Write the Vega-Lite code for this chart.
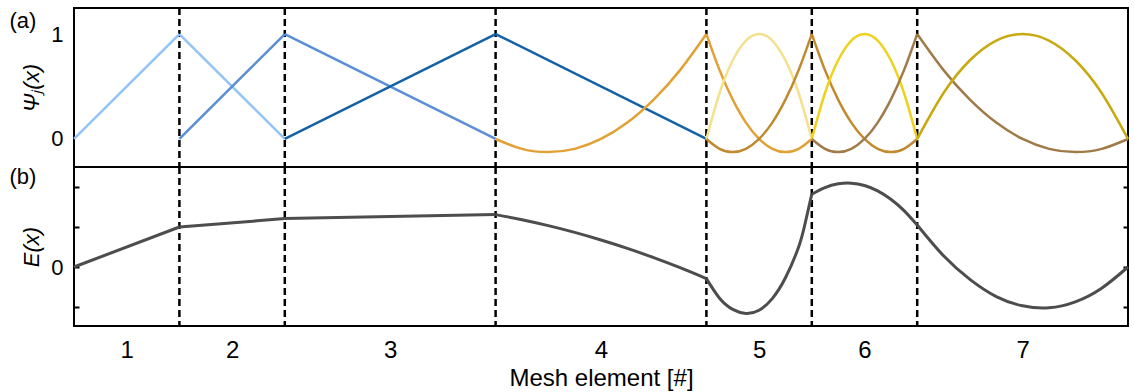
{
  "$schema": "https://vega.github.io/schema/vega-lite/v6.json",
  "padding": {"left": 8, "top": 5, "right": 6, "bottom": 0},
  "spacing": 0,
  "bounds": "flush",
  "config": {
    "font": "Liberation Sans",
    "view": {"stroke": "black", "strokeWidth": 2},
    "axis": {"labelFont": "Liberation Sans", "titleFont": "Liberation Sans", "labelFontSize": 22, "titleFontSize": 22, "labelColor": "black", "titleColor": "black", "grid": false, "domain": false, "titleFontWeight": "normal"}
  },
  "datasets": {
    "bounds": [{"x": 1}, {"x": 2}, {"x": 4}, {"x": 6}, {"x": 7}, {"x": 8}],
    "basis": [
      {"f": "h1", "seg": "h1a", "x": 0, "y": 0}, {"f": "h1", "seg": "h1a", "x": 1, "y": 1},
      {"f": "h1", "seg": "h1b", "x": 1, "y": 1}, {"f": "h1", "seg": "h1b", "x": 2, "y": 0},
      {"f": "h2", "seg": "h2a", "x": 1, "y": 0}, {"f": "h2", "seg": "h2a", "x": 2, "y": 1},
      {"f": "h2", "seg": "h2b", "x": 2, "y": 1}, {"f": "h2", "seg": "h2b", "x": 4, "y": 0},
      {"f": "h4", "seg": "h4a", "x": 2, "y": 0}, {"f": "h4", "seg": "h4a", "x": 4, "y": 1},
      {"f": "h4", "seg": "h4b", "x": 4, "y": 1}, {"f": "h4", "seg": "h4b", "x": 6, "y": 0},
      {"f": "q6", "seg": "q6a", "x": 4, "y": 0}, {"f": "q6", "seg": "q6a", "x": 4.25, "y": -0.094}, {"f": "q6", "seg": "q6a", "x": 4.5, "y": -0.125}, {"f": "q6", "seg": "q6a", "x": 4.75, "y": -0.094}, {"f": "q6", "seg": "q6a", "x": 5, "y": 0}, {"f": "q6", "seg": "q6a", "x": 5.25, "y": 0.156}, {"f": "q6", "seg": "q6a", "x": 5.5, "y": 0.375}, {"f": "q6", "seg": "q6a", "x": 5.75, "y": 0.656}, {"f": "q6", "seg": "q6a", "x": 6, "y": 1},
      {"f": "q6", "seg": "q6b", "x": 6, "y": 1}, {"f": "q6", "seg": "q6b", "x": 6.125, "y": 0.656}, {"f": "q6", "seg": "q6b", "x": 6.25, "y": 0.375}, {"f": "q6", "seg": "q6b", "x": 6.375, "y": 0.156}, {"f": "q6", "seg": "q6b", "x": 6.5, "y": 0}, {"f": "q6", "seg": "q6b", "x": 6.625, "y": -0.094}, {"f": "q6", "seg": "q6b", "x": 6.75, "y": -0.125}, {"f": "q6", "seg": "q6b", "x": 6.875, "y": -0.094}, {"f": "q6", "seg": "q6b", "x": 7, "y": 0},
      {"f": "b5", "seg": "b5", "x": 6, "y": 0}, {"f": "b5", "seg": "b5", "x": 6.125, "y": 0.438}, {"f": "b5", "seg": "b5", "x": 6.25, "y": 0.75}, {"f": "b5", "seg": "b5", "x": 6.375, "y": 0.938}, {"f": "b5", "seg": "b5", "x": 6.5, "y": 1}, {"f": "b5", "seg": "b5", "x": 6.625, "y": 0.938}, {"f": "b5", "seg": "b5", "x": 6.75, "y": 0.75}, {"f": "b5", "seg": "b5", "x": 6.875, "y": 0.438}, {"f": "b5", "seg": "b5", "x": 7, "y": 0},
      {"f": "q7", "seg": "q7a", "x": 6, "y": 0}, {"f": "q7", "seg": "q7a", "x": 6.125, "y": -0.094}, {"f": "q7", "seg": "q7a", "x": 6.25, "y": -0.125}, {"f": "q7", "seg": "q7a", "x": 6.375, "y": -0.094}, {"f": "q7", "seg": "q7a", "x": 6.5, "y": 0}, {"f": "q7", "seg": "q7a", "x": 6.625, "y": 0.156}, {"f": "q7", "seg": "q7a", "x": 6.75, "y": 0.375}, {"f": "q7", "seg": "q7a", "x": 6.875, "y": 0.656}, {"f": "q7", "seg": "q7a", "x": 7, "y": 1},
      {"f": "q7", "seg": "q7b", "x": 7, "y": 1}, {"f": "q7", "seg": "q7b", "x": 7.125, "y": 0.656}, {"f": "q7", "seg": "q7b", "x": 7.25, "y": 0.375}, {"f": "q7", "seg": "q7b", "x": 7.375, "y": 0.156}, {"f": "q7", "seg": "q7b", "x": 7.5, "y": 0}, {"f": "q7", "seg": "q7b", "x": 7.625, "y": -0.094}, {"f": "q7", "seg": "q7b", "x": 7.75, "y": -0.125}, {"f": "q7", "seg": "q7b", "x": 7.875, "y": -0.094}, {"f": "q7", "seg": "q7b", "x": 8, "y": 0},
      {"f": "b6", "seg": "b6", "x": 7, "y": 0}, {"f": "b6", "seg": "b6", "x": 7.125, "y": 0.438}, {"f": "b6", "seg": "b6", "x": 7.25, "y": 0.75}, {"f": "b6", "seg": "b6", "x": 7.375, "y": 0.938}, {"f": "b6", "seg": "b6", "x": 7.5, "y": 1}, {"f": "b6", "seg": "b6", "x": 7.625, "y": 0.938}, {"f": "b6", "seg": "b6", "x": 7.75, "y": 0.75}, {"f": "b6", "seg": "b6", "x": 7.875, "y": 0.438}, {"f": "b6", "seg": "b6", "x": 8, "y": 0},
      {"f": "q8", "seg": "q8a", "x": 7, "y": 0}, {"f": "q8", "seg": "q8a", "x": 7.125, "y": -0.094}, {"f": "q8", "seg": "q8a", "x": 7.25, "y": -0.125}, {"f": "q8", "seg": "q8a", "x": 7.375, "y": -0.094}, {"f": "q8", "seg": "q8a", "x": 7.5, "y": 0}, {"f": "q8", "seg": "q8a", "x": 7.625, "y": 0.156}, {"f": "q8", "seg": "q8a", "x": 7.75, "y": 0.375}, {"f": "q8", "seg": "q8a", "x": 7.875, "y": 0.656}, {"f": "q8", "seg": "q8a", "x": 8, "y": 1},
      {"f": "q8", "seg": "q8b", "x": 8, "y": 1}, {"f": "q8", "seg": "q8b", "x": 8.25, "y": 0.656}, {"f": "q8", "seg": "q8b", "x": 8.5, "y": 0.375}, {"f": "q8", "seg": "q8b", "x": 8.75, "y": 0.156}, {"f": "q8", "seg": "q8b", "x": 9, "y": 0}, {"f": "q8", "seg": "q8b", "x": 9.25, "y": -0.094}, {"f": "q8", "seg": "q8b", "x": 9.5, "y": -0.125}, {"f": "q8", "seg": "q8b", "x": 9.75, "y": -0.094}, {"f": "q8", "seg": "q8b", "x": 10, "y": 0},
      {"f": "b7", "seg": "b7", "x": 8, "y": 0}, {"f": "b7", "seg": "b7", "x": 8.25, "y": 0.438}, {"f": "b7", "seg": "b7", "x": 8.5, "y": 0.75}, {"f": "b7", "seg": "b7", "x": 8.75, "y": 0.938}, {"f": "b7", "seg": "b7", "x": 9, "y": 1}, {"f": "b7", "seg": "b7", "x": 9.25, "y": 0.938}, {"f": "b7", "seg": "b7", "x": 9.5, "y": 0.75}, {"f": "b7", "seg": "b7", "x": 9.75, "y": 0.438}, {"f": "b7", "seg": "b7", "x": 10, "y": 0}
    ],
    "E": [
      {"seg": "e1", "x": 0, "y": 0}, {"seg": "e1", "x": 1, "y": 1.0},
      {"seg": "e2", "x": 1, "y": 1.0}, {"seg": "e2", "x": 2, "y": 1.21},
      {"seg": "e3", "x": 2, "y": 1.21}, {"seg": "e3", "x": 4, "y": 1.31},
      {"seg": "e4", "x": 4, "y": 1.31}, {"seg": "e4", "x": 4.25, "y": 1.182}, {"seg": "e4", "x": 4.5, "y": 1.034}, {"seg": "e4", "x": 4.75, "y": 0.865}, {"seg": "e4", "x": 5, "y": 0.675}, {"seg": "e4", "x": 5.25, "y": 0.465}, {"seg": "e4", "x": 5.5, "y": 0.234}, {"seg": "e4", "x": 5.75, "y": -0.018}, {"seg": "e4", "x": 6, "y": -0.29},
      {"seg": "e5", "x": 6, "y": -0.29}, {"seg": "e5", "x": 6.125, "y": -0.78}, {"seg": "e5", "x": 6.25, "y": -1.06}, {"seg": "e5", "x": 6.375, "y": -1.16}, {"seg": "e5", "x": 6.5, "y": -1.08}, {"seg": "e5", "x": 6.625, "y": -0.79}, {"seg": "e5", "x": 6.75, "y": -0.27}, {"seg": "e5", "x": 6.875, "y": 0.5}, {"seg": "e5", "x": 6.9375, "y": 1.1}, {"seg": "e5", "x": 7, "y": 1.82},
      {"seg": "e6", "x": 7, "y": 1.82}, {"seg": "e6", "x": 7.125, "y": 1.987}, {"seg": "e6", "x": 7.25, "y": 2.079}, {"seg": "e6", "x": 7.375, "y": 2.096}, {"seg": "e6", "x": 7.5, "y": 2.038}, {"seg": "e6", "x": 7.625, "y": 1.904}, {"seg": "e6", "x": 7.75, "y": 1.694}, {"seg": "e6", "x": 7.875, "y": 1.41}, {"seg": "e6", "x": 8, "y": 1.05},
      {"seg": "e7", "x": 8, "y": 1.05}, {"seg": "e7", "x": 8.25, "y": 0.28}, {"seg": "e7", "x": 8.5, "y": -0.31}, {"seg": "e7", "x": 8.75, "y": -0.74}, {"seg": "e7", "x": 9, "y": -0.97}, {"seg": "e7", "x": 9.25, "y": -1.02}, {"seg": "e7", "x": 9.5, "y": -0.87}, {"seg": "e7", "x": 9.75, "y": -0.53}, {"seg": "e7", "x": 10, "y": 0}
    ]
  },
  "vconcat": [
    {
      "width": 1054,
      "height": 159,
      "layer": [
        {
          "data": {"name": "bounds"},
          "mark": {"type": "rule", "strokeDash": [7, 4], "strokeWidth": 2.5, "color": "black"},
          "encoding": {"x": {"field": "x", "type": "quantitative", "scale": {"domain": [0, 10], "nice": false, "zero": false}}}
        },
        {
          "data": {"name": "basis"},
          "mark": {"type": "line", "strokeWidth": 2.5, "interpolate": "natural"},
          "encoding": {
            "x": {"field": "x", "type": "quantitative", "scale": {"domain": [0, 10], "nice": false, "zero": false}, "axis": {"orient": "top", "labels": false, "ticks": false, "domain": false, "title": "(a)", "titleX": -65, "titleY": 12, "titleAlign": "left", "titleBaseline": "middle", "titleAngle": 0}},
            "y": {"field": "y", "type": "quantitative", "scale": {"domain": [-0.267, 1.248], "nice": false, "zero": false}, "axis": {"values": [0, 1], "ticks": false, "labelPadding": 11, "title": "Ψⱼ(x)", "titleFontStyle": "italic", "titlePadding": 7}},
            "color": {"field": "f", "type": "nominal", "legend": null, "scale": {"domain": ["h1", "h2", "h4", "q6", "b5", "q7", "b6", "q8", "b7"], "range": ["#94c3f5", "#5a8fd6", "#1461a6", "#e2a135", "#f5e08e", "#c08a2e", "#efd21f", "#a07a48", "#c8a912"]}},
            "detail": {"field": "seg"}
          }
        }
      ]
    },
    {
      "width": 1054,
      "height": 159,
      "layer": [
        {
          "data": {"name": "bounds"},
          "mark": {"type": "rule", "strokeDash": [7, 4], "strokeWidth": 2.5, "color": "black"},
          "encoding": {"x": {"field": "x", "type": "quantitative", "scale": {"domain": [0, 10], "nice": false, "zero": false}}}
        },
        {
          "data": {"name": "E"},
          "mark": {"type": "line", "strokeWidth": 3, "color": "#4d4d4d", "interpolate": "natural"},
          "encoding": {
            "x": {"field": "x", "type": "quantitative", "scale": {"domain": [0, 10], "nice": false, "zero": false}, "axis": {"orient": "bottom", "values": [0.5, 1.5, 3, 5, 6.5, 7.5, 9], "labelExpr": "indexof([0.5, 1.5, 3, 5, 6.5, 7.5, 9], datum.value) + 1", "ticks": false, "labelPadding": 12, "labelFontSize": 24, "titleFontSize": 24, "title": "Mesh element [#]", "titlePadding": 4}},
            "y": {"field": "y", "type": "quantitative", "scale": {"domain": [-1.475, 2.5], "nice": false, "zero": false}, "axis": {"values": [-1, 0, 1, 2], "labelExpr": "datum.value === 0 ? '0' : ''", "tickSize": -5, "tickWidth": 2, "tickColor": "black", "labelPadding": 16, "title": "E(x)", "titleFontStyle": "italic", "titlePadding": 7}},
            "detail": {"field": "seg"}
          }
        },
        {
          "data": {"name": "E"},
          "mark": {"type": "line", "opacity": 0},
          "encoding": {
            "x": {"field": "x", "type": "quantitative"},
            "y": {"field": "y", "type": "quantitative", "axis": {"orient": "right", "values": [-1, 0, 1, 2], "labels": false, "tickSize": -5, "tickWidth": 2, "tickColor": "black", "title": "(b)", "titleX": -1119, "titleY": 9, "titleAlign": "left", "titleBaseline": "middle", "titleAngle": 0}},
            "detail": {"field": "seg"}
          }
        }
      ],
      "resolve": {"scale": {"y": "shared"}, "axis": {"y": "independent"}}
    }
  ]
}
